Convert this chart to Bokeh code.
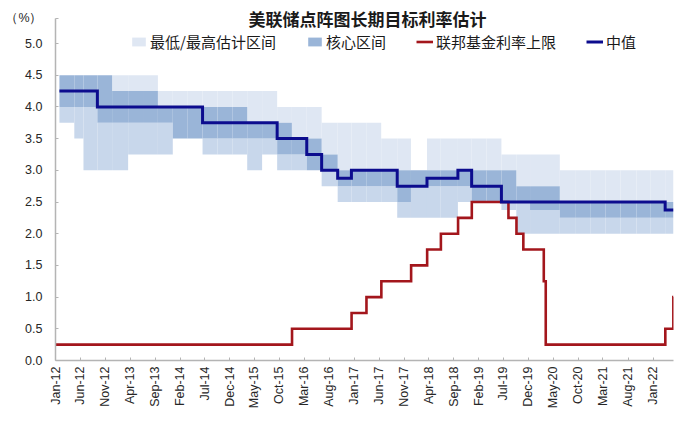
import pandas as pd
from bokeh.plotting import figure
from bokeh.models import (ColumnDataSource, FixedTicker, DatetimeTickFormatter,
                          NumeralTickFormatter, Legend, LegendItem, Label, Range1d)
from bokeh.embed import file_html
from bokeh.resources import INLINE

# ---- data: FOMC longer-run fed funds rate projections (SEP releases) ----
sep_dates = ["2012-01-25", "2012-04-25", "2012-06-20", "2012-09-13", "2012-12-12",
             "2013-03-20", "2013-06-19", "2013-09-18", "2013-12-18",
             "2014-03-19", "2014-06-18", "2014-09-17", "2014-12-17",
             "2015-03-18", "2015-06-17", "2015-09-17", "2015-12-16",
             "2016-03-16", "2016-06-15", "2016-09-21", "2016-12-14",
             "2017-03-15", "2017-06-14", "2017-09-20", "2017-12-13",
             "2018-03-21", "2018-06-13", "2018-09-26", "2018-12-19",
             "2019-03-20", "2019-06-19", "2019-09-18", "2019-12-11",
             "2020-06-10", "2020-09-16", "2020-12-16",
             "2021-03-17", "2021-06-16", "2021-09-22", "2021-12-15",
             "2022-03-16"]
range_low = [3.75, 3.5, 3.0, 3.0, 3.0,
             3.25, 3.25, 3.25, 3.5,
             3.5, 3.25, 3.25, 3.25,
             3.0, 3.25, 3.0, 3.0,
             3.0, 2.75, 2.5, 2.5,
             2.5, 2.5, 2.25, 2.25,
             2.25, 2.25, 2.5, 2.5,
             2.5, 2.375, 2.0, 2.0,
             2.0, 2.0, 2.0,
             2.0, 2.0, 2.0, 2.0,
             2.0]
core_low = [4.0, 4.0, 4.0, 3.75, 3.75,
            3.75, 3.75, 3.75, 3.5,
            3.5, 3.5, 3.5, 3.5,
            3.5, 3.5, 3.25, 3.25,
            3.0, 3.0, 2.75, 2.75,
            2.75, 2.75, 2.5, 2.75,
            2.75, 2.75, 2.75, 2.5,
            2.5, 2.5, 2.5, 2.375,
            2.25, 2.25, 2.25,
            2.25, 2.25, 2.25, 2.25,
            2.25]
median = [4.25, 4.25, 4.25, 4.0, 4.0,
          4.0, 4.0, 4.0, 4.0,
          4.0, 3.75, 3.75, 3.75,
          3.75, 3.75, 3.5, 3.5,
          3.25, 3.0, 2.875, 3.0,
          3.0, 3.0, 2.75, 2.75,
          2.875, 2.875, 3.0, 2.75,
          2.75, 2.5, 2.5, 2.5,
          2.5, 2.5, 2.5,
          2.5, 2.5, 2.5, 2.5,
          2.375]
core_high = [4.5, 4.5, 4.5, 4.5, 4.25,
             4.25, 4.25, 4.0, 4.0,
             4.0, 4.0, 4.0, 4.0,
             3.75, 3.75, 3.75, 3.5,
             3.5, 3.25, 3.0, 3.0,
             3.0, 3.0, 3.0, 3.0,
             3.0, 3.0, 3.0, 3.0,
             3.0, 3.0, 2.75, 2.75,
             2.5, 2.5, 2.5,
             2.5, 2.5, 2.5, 2.5,
             2.5]
range_high = [4.5, 4.5, 4.5, 4.5, 4.5,
              4.5, 4.5, 4.25, 4.25,
              4.25, 4.25, 4.25, 4.25,
              4.25, 4.25, 4.0, 4.0,
              4.0, 3.75, 3.75, 3.75,
              3.75, 3.5, 3.5, 3.0,
              3.5, 3.5, 3.5, 3.5,
              3.5, 3.25, 3.25, 3.25,
              3.0, 3.0, 3.0,
              3.0, 3.0, 3.0, 3.0,
              3.0]

# ---- data: federal funds target upper limit (change dates) ----
ff_dates = ["2012-01-01", "2015-12-17", "2016-12-15", "2017-03-16", "2017-06-15",
            "2017-12-14", "2018-03-22", "2018-06-14", "2018-09-27", "2018-12-20",
            "2019-08-01", "2019-09-19", "2019-10-31", "2020-03-04", "2020-03-16",
            "2022-03-17", "2022-05-05"]
ff_upper = [0.25, 0.5, 0.75, 1.0, 1.25,
            1.5, 1.75, 2.0, 2.25, 2.5,
            2.25, 2.0, 1.75, 1.25, 0.25,
            0.5, 1.0]

axis_start = "2012-01-01"
axis_end = "2022-05-06"

tick_labels = ["Jan-12", "Jun-12", "Nov-12", "Apr-13", "Sep-13", "Feb-14", "Jul-14",
               "Dec-14", "May-15", "Oct-15", "Mar-16", "Aug-16", "Jan-17", "Jun-17",
               "Nov-17", "Apr-18", "Sep-18", "Feb-19", "Jul-19", "Dec-19", "May-20",
               "Oct-20", "Mar-21", "Aug-21", "Jan-22"]
y_ticks = [0.0, 0.5, 1.0, 1.5, 2.0, 2.5, 3.0, 3.5, 4.0, 4.5, 5.0]
y_max = 5.0
unit_text = "（%）"
unit_pos = 5.4          # the unit label sits above the top tick, like the reference
title_text = "美联储点阵图长期目标利率估计"

# ---- layout constants (pixels) ----
W, H = 700, 430
FL, FR, FB = 55, 27, 70          # frame borders: left, right, bottom; frame reaches the top
frame_h = H - FB
px_per_unit = (frame_h - 43) / y_max   # 5.0 sits 43 px below the page top
y_top = frame_h / px_per_unit

# ---- build sources ----
starts = list(pd.to_datetime(sep_dates))
ends = starts[1:] + [pd.Timestamp(axis_end)]
src = ColumnDataSource(dict(left=starts, right=ends, low=range_low, clow=core_low,
                            chigh=core_high, high=range_high))

CJK = "Noto Sans CJK SC"
LAT = "Liberation Sans"

p = figure(width=W, height=H, x_axis_type="datetime",
           x_range=Range1d(pd.Timestamp(axis_start), pd.Timestamp(axis_end)),
           y_range=Range1d(0, y_top), title_location=None,
           output_backend="svg", toolbar_location=None,
           min_border_left=FL, min_border_right=FR, min_border_top=0, min_border_bottom=FB)

r_low = p.quad(left="left", right="right", bottom="low", top="clow", source=src,
               fill_color="#c8d7eb", line_color=None)
r_high = p.quad(left="left", right="right", bottom="chigh", top="high", source=src,
                fill_color="#dfe7f3", line_color=None)
r_core = p.quad(left="left", right="right", bottom="clow", top="chigh", source=src,
                fill_color="#9ab5d8", line_color=None)

ff_x = list(pd.to_datetime(ff_dates)) + [pd.Timestamp(axis_end)]
ff_y = ff_upper + [ff_upper[-1]]
r_ff = p.step(ff_x, ff_y, mode="after", line_color="#a3161c", line_width=2.6,
              line_join="miter")

med_x = starts + [pd.Timestamp(axis_end)]
med_y = median + [median[-1]]
r_med = p.step(med_x, med_y, mode="after", line_color="#0c0c8e", line_width=3,
               line_join="miter")

# ---- axes ----
p.grid.visible = False
p.outline_line_color = None

p.xaxis.ticker = FixedTicker(ticks=[pd.to_datetime(t, format="%b-%y").value / 1e6
                                    for t in tick_labels])
fmt = "%b-%y"
p.xaxis.formatter = DatetimeTickFormatter(days=fmt, months=fmt, years=fmt,
                                          hours=fmt, minutes=fmt, seconds=fmt,
                                          milliseconds=fmt, microseconds=fmt)
p.xaxis.major_label_orientation = 1.5707963
p.yaxis.ticker = FixedTicker(ticks=y_ticks + [unit_pos])
p.yaxis.formatter = NumeralTickFormatter(format="0.0")
p.yaxis.major_label_overrides = {unit_pos: unit_text}
p.yaxis.bounds = (0, unit_pos)

for ax in (p.xaxis, p.yaxis):
    ax.axis_line_color = "#b4b4b4"
    ax.axis_line_width = 1.5
    ax.major_tick_line_color = "#b4b4b4"
    ax.major_tick_in = 3
    ax.major_tick_out = 0
    ax.minor_tick_line_color = None
    ax.major_label_text_font = LAT
    ax.major_label_text_font_size = "12.5px"
    ax.major_label_text_color = "#262626"
p.yaxis.major_label_standoff = 13
p.xaxis.major_label_standoff = 6

# ---- title (inside the top of the frame) ----
p.add_layout(Label(x=312, y=frame_h - 18, x_units="screen", y_units="screen",
                   text=title_text, text_font=CJK, text_font_size="17px",
                   text_font_style="bold", text_color="#1a1a1a",
                   text_align="center", text_baseline="middle"))

# ---- legend ----
legend = Legend(items=[LegendItem(label="最低/最高估计区间", renderers=[r_high]),
                       LegendItem(label="核心区间", renderers=[r_core]),
                       LegendItem(label="联邦基金利率上限", renderers=[r_ff]),
                       LegendItem(label="中值", renderers=[r_med])],
                orientation="horizontal", location=(75, frame_h - 43 - 9),
                border_line_color=None, background_fill_alpha=0,
                padding=0, margin=0, spacing=30, label_standoff=3,
                glyph_width=17, glyph_height=11,
                label_text_font=CJK, label_text_font_size="15px",
                label_text_color="#1a1a1a")
p.add_layout(legend)

open("out.html", "w").write(file_html(p, INLINE))
